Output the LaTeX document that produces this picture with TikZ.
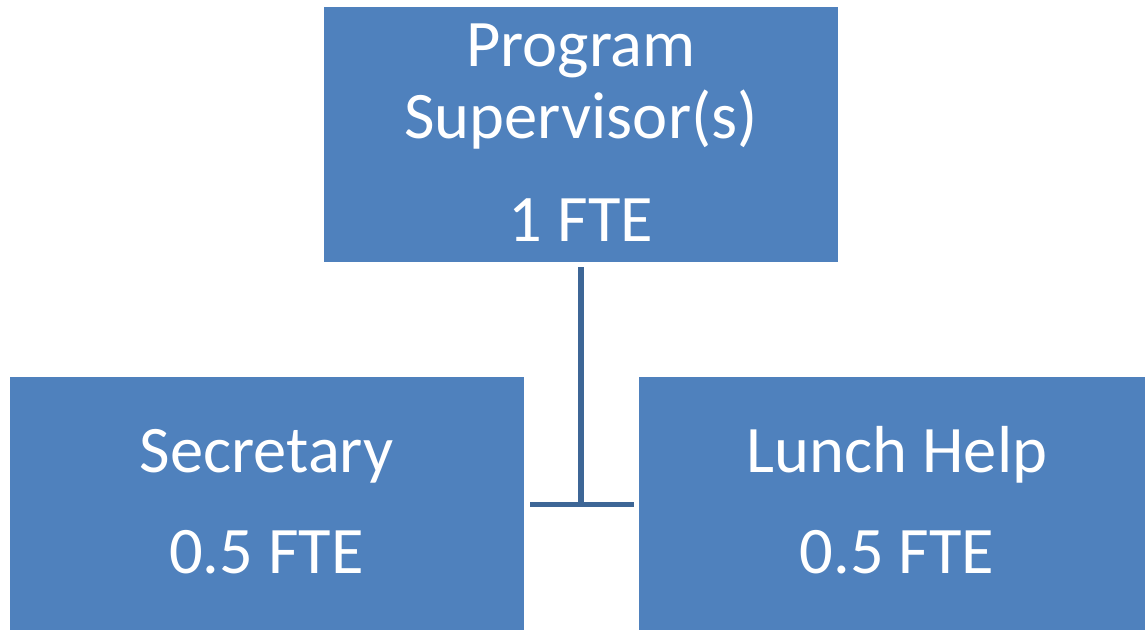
\documentclass[tikz,border=0pt]{standalone}
\usepackage{fontspec}
\setmainfont{Carlito}
\definecolor{boxblue}{HTML}{4F81BD}
\definecolor{lineblue}{HTML}{3D6696}
\begin{document}
\begin{tikzpicture}[x=1pt,y=-1pt]
% size of each box
\def\bw{514}
\def\bh{255}
% node style definition
\tikzstyle{post} = [
	fill=boxblue, draw=none, rectangle, inner sep=0pt,
	minimum width=\bw pt, minimum height=\bh pt ];
\tikzstyle{txt} = [text=white, inner sep=0pt, anchor=base,
	font=\fontsize{66.5}{72}\selectfont];
\tikzstyle{link} = [draw=lineblue, line width=5.5pt];
\useasboundingbox (0,0) rectangle (1145,629);

% boxes
\node[post] (super) at (581,134.5) {};
\node[post] (secr) at (266.5,504.5) {};
\node[post] (lunch) at (896,504.5) {};

% texts
\node[txt] (superA) at (581,66) {Program};
\node[txt] (superB) at (581,138) {Supervisor(s)};
\node[txt] (superC) at (581,241) {1 FTE};
\node[txt] (secrA) at (266.5,472) {Secretary};
\node[txt] (secrB) at (266.5,573) {0.5 FTE};
\node[txt] (lunchA) at (897,472) {Lunch Help};
\node[txt] (lunchB) at (897,573) {0.5 FTE};

% connector
\coordinate (jn) at (581,504.5);
\coordinate (jl) at (530,504.5);
\coordinate (jr) at (634,504.5);
\draw[link] ([yshift=-5pt]super.south) -- (jn);
\draw[link] (jl) -- (jr);
\end{tikzpicture}
\end{document}
